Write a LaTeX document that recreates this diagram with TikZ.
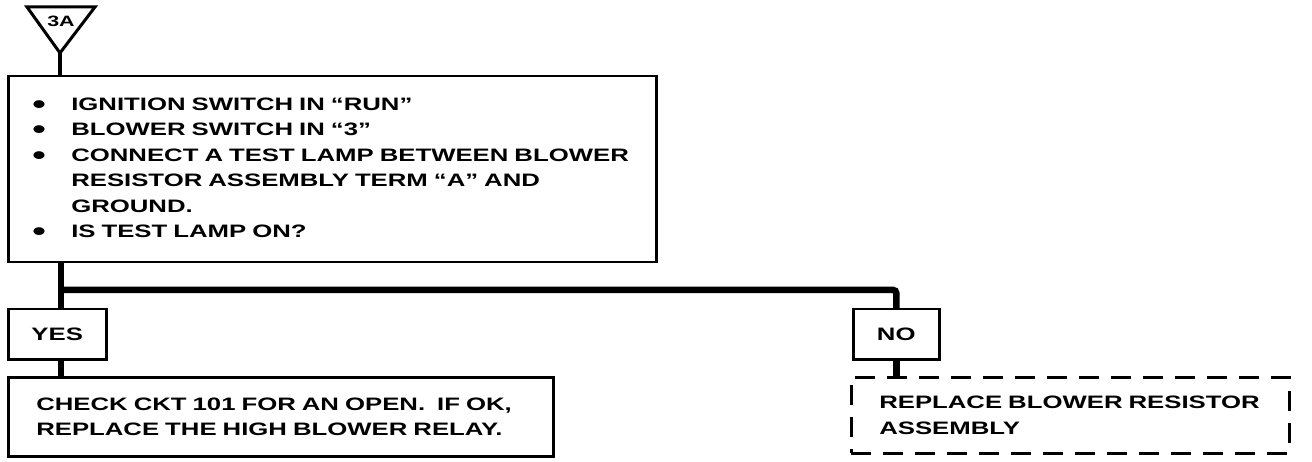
\documentclass[tikz,border=0pt]{standalone}
\usepackage{fontspec}
\setmainfont{Liberation Sans}[FakeStretch=1.43]
\usetikzlibrary{positioning,calc}
\newcommand\chartfont{\fontsize{18}{25.4}\selectfont\bfseries}
\newcommand\bul{\makebox[39pt][l]{\raisebox{-3pt}{\scalebox{1.5}{\textbullet}}}}

\begin{document}
\begin{tikzpicture}[x=1pt, y=-1pt,
  box/.style={draw, line width=2.5pt, inner ysep=0pt, font=\chartfont, align=left, anchor=north west},
  answer/.style={draw, line width=2.5pt, inner sep=0pt, font=\chartfont, minimum height=50pt, anchor=north west},
  conn/.style={line width=6.5pt, rounded corners=3pt},
  tagline/.style={line width=3pt, line join=miter}
]
\useasboundingbox (0,0) rectangle (1312,462);

% entry tag
\draw[tagline] (27,7) -- (95,7) -- (60,53) coordinate (tip) -- cycle;
\node[font=\fontsize{15}{16}\selectfont\bfseries, inner sep=0pt] (tag) at (61,21) {3A};

% check step
\node[box, inner xsep=24pt, text width=600pt, minimum height=186pt] (chk) at (7,75) {%
\bul IGNITION SWITCH IN “RUN”\\
\bul BLOWER SWITCH IN “3”\\
\bul CONNECT A TEST LAMP BETWEEN BLOWER\\
\hspace*{39pt}RESISTOR ASSEMBLY TERM “A” AND\\
\hspace*{39pt}GROUND.\\
\bul IS TEST LAMP ON?};
\draw[line width=4.5pt] (tip) -- (chk.north -| tip);

% answers
\node[answer, minimum width=98pt] (yes) at (7,308) {YES};
\node[answer, minimum width=86pt] (no) at (852,308) {NO};
\coordinate (split) at (61,290);
\draw[conn] (chk.south -| split) -- (yes.north -| split);
\draw[conn] (split) -| (no.north);

% results
\node[box, inner xsep=28pt, text width=489pt, minimum height=79pt] (fix) at (7,376) {%
CHECK CKT 101 FOR AN OPEN.\ \ IF OK,\\
REPLACE THE HIGH BLOWER RELAY.};
\node[box, dash pattern=on 20pt off 12pt, inner xsep=28pt, text width=382pt, minimum height=76pt] (rep) at (850,376) {%
REPLACE BLOWER RESISTOR\\
ASSEMBLY};
\draw[conn] (yes.south -| split) -- (fix.north -| split);
\draw[conn] (no.south) -- (rep.north -| no.south);
\end{tikzpicture}
\end{document}
